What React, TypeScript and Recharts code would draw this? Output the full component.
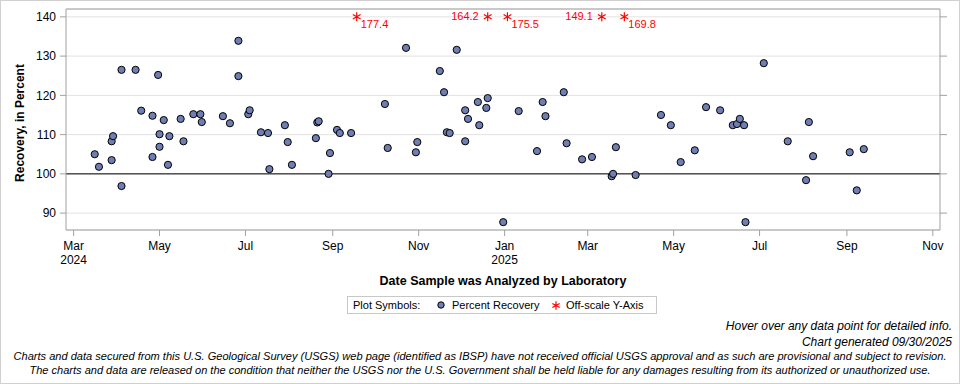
import React from "react";
import { ScatterChart, Scatter, XAxis, YAxis, CartesianGrid, ReferenceLine } from "recharts";

// sample dates and percent recovery
const sampleDates = [
  "2024-03-16", "2024-03-19", "2024-03-28", "2024-03-28", "2024-03-29", "2024-04-04", "2024-04-04",
  "2024-04-14", "2024-04-18", "2024-04-26", "2024-04-26", "2024-04-30", "2024-05-01", "2024-05-01",
  "2024-05-04", "2024-05-07", "2024-05-08", "2024-05-16", "2024-05-18", "2024-05-25", "2024-05-30",
  "2024-05-31", "2024-06-15", "2024-06-20", "2024-06-26", "2024-06-26", "2024-07-03", "2024-07-04",
  "2024-07-12", "2024-07-17", "2024-07-18", "2024-07-29", "2024-07-31", "2024-08-03", "2024-08-20",
  "2024-08-21", "2024-08-22", "2024-08-29", "2024-08-30", "2024-09-04", "2024-09-06", "2024-09-14",
  "2024-10-08", "2024-10-10", "2024-10-23", "2024-10-30", "2024-10-31", "2024-11-16", "2024-11-19",
  "2024-11-21", "2024-11-23", "2024-11-28", "2024-12-04", "2024-12-04", "2024-12-06", "2024-12-13",
  "2024-12-14", "2024-12-19", "2024-12-20", "2024-12-31", "2025-01-11", "2025-01-24", "2025-01-28",
  "2025-01-30", "2025-02-12", "2025-02-14", "2025-02-25", "2025-03-04", "2025-03-18", "2025-03-19",
  "2025-03-21", "2025-04-04", "2025-04-22", "2025-04-29", "2025-05-06", "2025-05-16", "2025-05-24",
  "2025-06-03", "2025-06-12", "2025-06-15", "2025-06-17", "2025-06-20", "2025-06-21", "2025-07-04",
  "2025-07-21", "2025-08-03", "2025-08-05", "2025-08-08", "2025-09-03", "2025-09-08", "2025-09-13",
];
const recoveryValues = [
  105.0, 101.8, 103.5, 108.3, 109.6, 126.5, 96.9,
  126.5, 116.1, 114.8, 104.3, 125.2, 110.1, 106.9,
  113.7, 102.3, 109.6, 114.0, 108.3, 115.2, 115.2,
  113.2, 114.7, 112.9, 133.9, 124.9, 115.2, 116.2,
  110.6, 110.4, 101.2, 112.4, 108.1, 102.3, 109.1,
  113.1, 113.4, 100.0, 105.3, 111.2, 110.4, 110.4,
  117.8, 106.6, 132.1, 105.5, 108.1, 126.2, 120.8,
  110.6, 110.4, 131.6, 116.2, 108.3, 114.0, 118.3,
  112.4, 116.8, 119.3, 87.7, 116.0, 105.8, 118.3,
  114.7, 120.8, 107.8, 103.7, 104.3, 99.4, 100.0,
  106.8, 99.7, 115.0, 112.4, 103.0, 106.0, 117.0,
  116.2, 112.4, 112.7, 114.0, 112.4, 87.7, 128.2,
  108.3, 98.4, 113.2, 104.5, 105.5, 95.8, 106.3,
];

const offScaleDates = ["2024-09-18", "2024-12-20", "2025-01-03", "2025-03-11", "2025-03-27"];
const offScaleValues = [177.4, 164.2, 175.5, 149.1, 169.8];

const yTicks = [90, 100, 110, 120, 130, 140];
const tickDates = [
  "2024-03-01", "2024-05-01", "2024-07-01", "2024-09-01", "2024-11-01", "2025-01-01",
  "2025-03-01", "2025-05-01", "2025-07-01", "2025-09-01", "2025-11-01",
];
const monthNames = ["Jan", "Feb", "Mar", "Apr", "May", "Jun", "Jul", "Aug", "Sep", "Oct", "Nov", "Dec"];

const DAY = 86400000;
const Y_MIN = 85.7;
const Y_MAX = 142;
const Y_CAP = 140;
const X_MIN = Date.parse("2024-03-01") - 5.4 * DAY;
const X_MAX = Date.parse("2025-11-01") + 5.1 * DAY;

const FONT = "Arial, 'Liberation Sans', sans-serif";
const AXIS = "#a0a0a0";
const DOT = "#6F7EB3";

const points = sampleDates.map((d, i) => ({ t: Date.parse(d), v: recoveryValues[i] }));
const offPoints = offScaleDates.map((d, i) => {
  const next = offScaleDates[i + 1];
  return {
    t: Date.parse(d),
    v: Math.min(offScaleValues[i], Y_CAP),
    actual: offScaleValues[i],
    // put label on the left when another off-scale mark sits close on the right
    labelLeft: next !== undefined && Date.parse(next) - Date.parse(d) < 25 * DAY,
  };
});
const tickTimes = tickDates.map((d) => Date.parse(d));

function asteriskPath(cx: number, cy: number, r: number) {
  const dx = r * Math.cos(Math.PI / 6);
  const dy = r * Math.sin(Math.PI / 6);
  return `M${cx},${cy - r}L${cx},${cy + r}M${cx - dx},${cy - dy}L${cx + dx},${cy + dy}M${cx - dx},${cy + dy}L${cx + dx},${cy - dy}`;
}

const DotShape = (props: any) => {
  const { cx, cy } = props;
  return <circle cx={cx} cy={cy} r={3.6} fill={DOT} stroke="#000" strokeWidth={1} />;
};

const OffScaleShape = (props: any) => {
  const { cx, cy, payload } = props;
  return (
    <g>
      <path d={asteriskPath(cx, cy, 4.5)} stroke="#ff0000" strokeWidth={1.2} fill="none" />
      {payload.labelLeft ? (
        <text x={cx - 9} y={cy + 3} textAnchor="end" fontSize={11} fill="#ff0000" fontFamily={FONT}>
          {payload.actual.toFixed(1)}
        </text>
      ) : (
        <text x={cx + 4} y={cy + 11} textAnchor="start" fontSize={11} fill="#ff0000" fontFamily={FONT}>
          {payload.actual.toFixed(1)}
        </text>
      )}
    </g>
  );
};

const DateTick = (props: any) => {
  const { x, y, payload, index } = props;
  const d = new Date(payload.value);
  const month = d.getUTCMonth();
  const showYear = index === 0 || month === 0;
  return (
    <g>
      <text x={x} y={y + 11.5} textAnchor="middle" fontSize={12} fill="#000" fontFamily={FONT}>
        {monthNames[month]}
      </text>
      {showYear && (
        <text x={x} y={y + 25.5} textAnchor="middle" fontSize={12} fill="#000" fontFamily={FONT}>
          {d.getUTCFullYear()}
        </text>
      )}
    </g>
  );
};

export default function App() {
  return (
    <div style={{ position: "absolute", left: 0, top: 0, width: 960, height: 384, background: "#fff", fontFamily: FONT }}>
      <ScatterChart width={960} height={384} margin={{ top: 9, right: 0, bottom: 114, left: 0 }}>
        <CartesianGrid vertical={false} stroke="#e2e2e2" />
        <XAxis
          dataKey="t"
          type="number"
          domain={[X_MIN, X_MAX]}
          allowDataOverflow
          ticks={tickTimes}
          interval={0}
          tick={<DateTick />}
          tickSize={6}
          height={40}
          axisLine={{ stroke: AXIS }}
          tickLine={{ stroke: AXIS }}
        />
        <YAxis
          dataKey="v"
          type="number"
          domain={[Y_MIN, Y_MAX]}
          allowDataOverflow
          ticks={yTicks}
          interval={0}
          width={66}
          tickSize={6}
          tickMargin={4}
          tick={{ fontSize: 12, fill: "#000", fontFamily: FONT }}
          axisLine={{ stroke: AXIS }}
          tickLine={{ stroke: AXIS }}
        />
        <YAxis
          yAxisId="right"
          orientation="right"
          dataKey="v"
          type="number"
          domain={[Y_MIN, Y_MAX]}
          allowDataOverflow
          ticks={yTicks}
          interval={0}
          width={20}
          tickSize={7}
          tickFormatter={() => ""}
          axisLine={{ stroke: AXIS }}
          tickLine={{ stroke: AXIS }}
        />
        <ReferenceLine y={Y_MAX} stroke={AXIS} />
        <ReferenceLine y={100} stroke="#000" strokeWidth={1} />
        <Scatter data={points} shape={<DotShape />} isAnimationActive={false} />
        <Scatter yAxisId="right" data={offPoints} shape={<OffScaleShape />} isAnimationActive={false} />
      </ScatterChart>

      <svg
        width={960}
        height={384}
        style={{ position: "absolute", left: 0, top: 0, pointerEvents: "none" }}
        fontFamily={FONT}
      >
        <rect x={0.5} y={0.5} width={959} height={383} fill="none" stroke="#d0d0d0" />
        <text transform="translate(24,123) rotate(-90)" textAnchor="middle" fontSize={12} fontWeight="bold" fill="#000">
          Recovery, in Percent
        </text>
        <text x={503} y={284.5} textAnchor="middle" fontSize={12.5} fontWeight="bold" fill="#000">
          Date Sample was Analyzed by Laboratory
        </text>

        <rect x={347.5} y={296.5} width={309} height={17} fill="#fff" stroke="#c8c8c8" />
        <text x={353} y={309} fontSize={11} fill="#000">Plot Symbols:</text>
        <circle cx={441} cy={305} r={3.2} fill={DOT} stroke="#000" strokeWidth={1} />
        <text x={452} y={309} fontSize={11} fill="#000">Percent Recovery</text>
        <path d={asteriskPath(556, 305.5, 4.2)} stroke="#ff0000" strokeWidth={1.2} fill="none" />
        <text x={566} y={309} fontSize={11} fill="#000">Off-scale Y-Axis</text>

        <text x={952} y={330} textAnchor="end" fontSize={12} fontStyle="italic" fill="#000">
          Hover over any data point for detailed info.
        </text>
        <text x={952} y={346} textAnchor="end" fontSize={12} fontStyle="italic" fill="#000">
          Chart generated 09/30/2025
        </text>
        <text x={480} y={360} textAnchor="middle" fontSize={11} fontStyle="italic" fill="#000" textLength={933} lengthAdjust="spacingAndGlyphs">
          Charts and data secured from this U.S. Geological Survey (USGS) web page (identified as IBSP) have not received official USGS approval and as such are provisional and subject to revision.
        </text>
        <text x={480} y={374} textAnchor="middle" fontSize={11} fontStyle="italic" fill="#000" textLength={901} lengthAdjust="spacingAndGlyphs">
          The charts and data are released on the condition that neither the USGS nor the U.S. Government shall be held liable for any damages resulting from its authorized or unauthorized use.
        </text>
      </svg>
    </div>
  );
}
